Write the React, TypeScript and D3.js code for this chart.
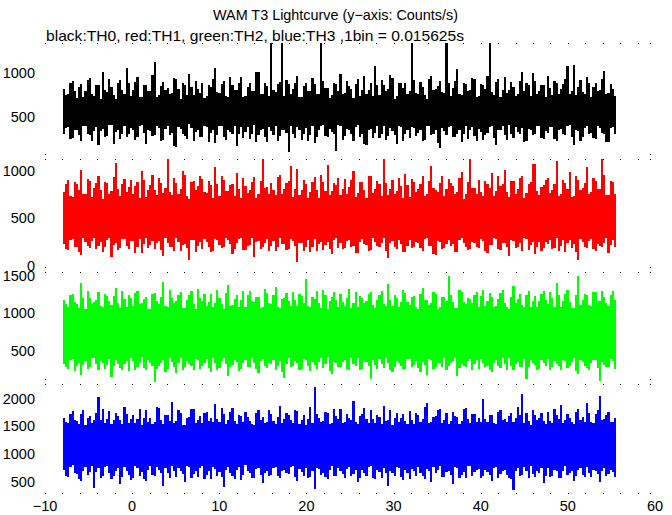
import React from "react";
import * as d3 from "d3";

const W = 672;
const H = 515;

// time of the first envelope sample and sample spacing (s)
const T0 = -7.95;
const STEP = 0.248;

const xTickValues = [-10, 0, 10, 20, 30, 40, 50, 60];
const xTickLabels = ["\u221210", "0", "10", "20", "30", "40", "50", "60"];

const titleText = "WAM T3 Lightcurve (y\u2212axis: Counts/s)";
const subtitleText = "black:TH0, red:TH1, green:TH2, blue:TH3 ,1bin = 0.015625s";

// TH0 (black): upper / lower excursion of the light curve in each sample, counts/s
const blackHigh = [
  820, 745, 760, 880, 905, 790, 712, 835, 870, 720, 790, 915, 940, 765, 735, 860,
  860, 705, 1010, 800, 780, 930, 845, 750, 700, 885, 915, 810, 765, 1050, 880, 740,
  810, 895, 955, 730, 725, 860, 860, 790, 790, 975, 1120, 720, 745, 850, 900, 805,
  830, 760, 770, 940, 935, 815, 705, 880, 865, 745, 985, 835, 750, 905, 820, 770,
  890, 715, 740, 860, 845, 925, 1060, 785, 775, 870, 910, 740, 720, 955, 860, 810,
  800, 880, 950, 725, 735, 845, 880, 790, 790, 1015, 1005, 760, 760, 890, 850, 735,
  1340, 805, 780, 870, 900, 1340, 740, 920, 870, 765, 815, 880, 960, 730, 725, 850,
  885, 795, 795, 940, 870, 760, 760, 1340, 905, 830, 830, 715, 745, 885, 875, 790,
  990, 760, 770, 905, 850, 820, 710, 870, 930, 740, 805, 960, 765, 800, 890, 735,
  1080, 860, 750, 915, 860, 790, 820, 975, 945, 705, 735, 880, 880, 825, 880, 760,
  790, 1340, 915, 770, 760, 895, 845, 745, 700, 930, 960, 810, 815, 855, 905, 785,
  775, 1340, 890, 740, 830, 905, 1040, 765, 750, 880, 870, 795, 805, 940, 925, 720,
  740, 870, 860, 815, 960, 1340, 785, 750, 900, 925, 720, 800, 955, 770, 810, 895,
  845, 735, 765, 910, 1015, 790, 880, 860, 735, 995, 905, 755, 790, 865, 860, 720,
  970, 830, 745, 905, 890, 760, 815, 875, 930, 1080, 760, 790, 1090, 745, 840, 915,
  785, 765, 950, 880, 720, 835, 880, 795, 805, 925, 1020, 760, 770, 870, 815, 740,
];
const blackLow = [
  310, 370, 385, 250, 260, 345, 350, 290, 220, 395, 400, 305, 295, 230, 340, 380,
  180, 335, 365, 270, 280, 410, 410, 195, 325, 355, 245, 300, 390, 265, 300, 375,
  355, 240, 270, 390, 405, 315, 190, 350, 335, 280, 290, 400, 375, 225, 240, 360,
  395, 295, 315, 170, 160, 385, 360, 305, 285, 250, 415, 370, 230, 325, 345, 270,
  275, 400, 380, 215, 320, 345, 205, 290, 400, 390, 265, 235, 350, 330, 300, 395,
  170, 310, 385, 260, 330, 380, 250, 300, 405, 215, 290, 355, 360, 275, 215, 385,
  340, 290, 395, 230, 280, 355, 355, 320, 100, 395, 310, 260, 385, 345, 240, 300,
  370, 225, 295, 390, 200, 265, 345, 395, 410, 285, 265, 360, 325, 300, 110, 410,
  390, 240, 285, 365, 350, 300, 230, 380, 405, 275, 300, 190, 175, 345, 365, 255,
  320, 390, 255, 310, 395, 235, 280, 370, 340, 295, 195, 400, 380, 230, 305, 345,
  260, 380, 370, 285, 315, 355, 225, 240, 400, 390, 290, 300, 355, 205, 150, 370,
  335, 295, 385, 400, 270, 265, 310, 355, 210, 305, 395, 250, 345, 380, 280, 225,
  365, 330, 240, 295, 320, 380, 390, 255, 185, 345, 350, 400, 295, 235, 410, 310,
  260, 380, 330, 300, 375, 215, 220, 365, 345, 290, 300, 395, 395, 260, 250, 340,
  315, 385, 380, 250, 230, 355, 360, 300, 290, 390, 405, 270, 180, 345, 340, 225,
  275, 375, 390, 305, 320, 255, 245, 400, 370, 320, 300, 215, 215, 370, 385, 300,
];

// TH1 (red)
const redHigh = [
  780, 860, 905, 740, 730, 880, 860, 795, 1010, 760, 760, 915, 890, 730, 820, 870,
  945, 800, 705, 885, 870, 755, 790, 940, 1080, 815, 740, 865, 915, 780, 835, 905,
  760, 845, 880, 720, 995, 900, 725, 805, 850, 960, 800, 745, 930, 870, 770, 820,
  1126, 780, 745, 930, 875, 760, 815, 1000, 960, 735, 710, 880, 890, 805, 840, 950,
  920, 775, 765, 890, 850, 720, 1040, 860, 735, 945, 900, 785, 790, 850, 865, 740,
  980, 810, 720, 925, 845, 770, 805, 880, 935, 715, 760, 895, 1126, 820, 830, 760,
  870, 795, 745, 935, 955, 760, 810, 870, 890, 1050, 730, 815, 1020, 745, 800, 900,
  860, 720, 775, 880, 940, 805, 715, 955, 880, 790, 1060, 745, 790, 875, 850, 930,
  745, 810, 920, 760, 835, 905, 1000, 730, 770, 880, 880, 800, 720, 945, 950, 765,
  810, 890, 865, 740, 1126, 870, 750, 815, 900, 760, 785, 925, 840, 720, 970, 850,
  725, 915, 885, 775, 815, 860, 945, 740, 760, 895, 1050, 820, 800, 775, 870, 945,
  735, 810, 920, 870, 845, 755, 780, 930, 990, 710, 755, 880, 1126, 825, 820, 760,
  905, 780, 740, 895, 860, 820, 975, 735, 790, 945, 840, 860, 1015, 780, 725, 890,
  895, 760, 810, 930, 950, 720, 765, 860, 880, 1070, 1070, 790, 745, 835, 855, 905,
  930, 770, 800, 865, 1110, 740, 760, 900, 870, 815, 985, 730, 735, 950, 905, 800,
  820, 875, 1040, 760, 775, 925, 890, 815, 810, 1126, 960, 745, 750, 890, 880, 760,
];
const redLow = [
  230, 180, 165, 270, 280, 205, 200, 150, 120, 290, 255, 215, 185, 265, 295, 175,
  215, 250, 150, 195, 270, 300, 90, 225, 240, 170, 190, 285, 285, 210, 175, 260,
  260, 135, 205, 280, 140, 230, 290, 185, 225, 265, 175, 240, 265, 170, 110, 290,
  245, 200, 195, 155, 300, 255, 160, 225, 235, 185, 60, 270, 275, 145, 210, 250,
  180, 285, 250, 205, 145, 160, 285, 275, 220, 190, 195, 300, 270, 235, 130, 180,
  240, 280, 300, 165, 170, 210, 225, 290, 95, 250, 260, 175, 200, 240, 280, 155,
  215, 260, 155, 195, 290, 230, 235, 170, 180, 285, 265, 210, 40, 245, 245, 155,
  205, 275, 150, 200, 280, 160, 230, 255, 170, 225, 255, 180, 125, 270, 295, 190,
  240, 175, 185, 265, 270, 200, 210, 140, 135, 250, 285, 230, 225, 160, 165, 295,
  250, 215, 195, 240, 300, 160, 80, 245, 260, 195, 180, 275, 230, 150, 145, 210,
  275, 185, 200, 250, 240, 190, 160, 285, 290, 215, 215, 130, 120, 265, 255, 180,
  185, 230, 270, 210, 230, 145, 150, 275, 295, 240, 205, 165, 175, 250, 245, 195,
  190, 280, 265, 155, 140, 220, 225, 290, 280, 175, 170, 245, 245, 205, 105, 270,
  260, 185, 200, 240, 155, 290, 285, 170, 220, 250, 130, 205, 250, 160, 185, 255,
  235, 275, 175, 190, 290, 155, 210, 270, 150, 240, 270, 185, 230, 145, 65, 280,
  255, 200, 190, 265, 280, 175, 160, 230, 215, 195, 245, 290, 140, 225, 270, 205,
];

// TH2 (green)
const greenHigh = [
  1180, 1120, 1090, 1240, 1260, 1150, 1120, 1075, 1400, 1210, 1060, 1295, 1210, 1130, 1150, 1185,
  1280, 1095, 1080, 1265, 1230, 1160, 1110, 1235, 1340, 1140, 1070, 1300, 1190, 1085, 1250, 1200,
  1100, 1275, 1300, 1125, 1140, 1190, 1220, 1060, 1065, 1255, 1270, 1170, 1130, 1215, 1420, 1095,
  1085, 1315, 1200, 1140, 1160, 1245, 1290, 1075, 1075, 1180, 1240, 1305, 1120, 1065, 1330, 1200,
  1170, 1260, 1095, 1150, 1260, 1090, 1140, 1310, 1210, 1125, 1060, 1270, 1380, 1105, 1110, 1195,
  1250, 1080, 1180, 1295, 1080, 1245, 1300, 1160, 1150, 1225, 1225, 1070, 1090, 1330, 1270, 1140,
  1130, 1250, 1350, 1085, 1070, 1190, 1200, 1270, 1160, 1105, 1280, 1180, 1100, 1255, 1235, 1145,
  1460, 1100, 1085, 1215, 1190, 1300, 1145, 1075, 1310, 1240, 1065, 1160, 1220, 1285, 1175, 1090,
  1255, 1150, 1100, 1200, 1320, 1070, 1140, 1290, 1080, 1230, 1210, 1135, 1165, 1255, 1290, 1115,
  1070, 1175, 1240, 1300, 1125, 1095, 1390, 1185, 1095, 1240, 1200, 1080, 1155, 1310, 1275, 1150,
  1110, 1220, 1230, 1085, 1060, 1265, 1340, 1175, 1180, 1115, 1135, 1290, 1260, 1065, 1090, 1225,
  1215, 1160, 1500, 1245, 1150, 1075, 1075, 1310, 1285, 1150, 1120, 1200, 1195, 1135, 1245, 1280,
  1085, 1230, 1310, 1100, 1165, 1270, 1220, 1080, 1100, 1195, 1270, 1310, 1140, 1090, 1060, 1220,
  1360, 1145, 1190, 1255, 1115, 1085, 1250, 1300, 1080, 1160, 1230, 1090, 1170, 1265, 1295, 1185,
  1125, 1280, 1205, 1090, 1410, 1245, 1090, 1170, 1260, 1310, 1150, 1075, 1070, 1240, 1500, 1115,
  1185, 1255, 1240, 1110, 1105, 1285, 1280, 1165, 1160, 1300, 1215, 1135, 1095, 1250, 1300, 1175,
];
const greenLow = [
  330, 280, 260, 375, 395, 235, 300, 345, 180, 310, 360, 265, 280, 400, 410, 320,
  240, 370, 345, 255, 310, 390, 150, 295, 385, 330, 270, 245, 325, 360, 230, 410,
  370, 250, 290, 345, 415, 275, 250, 380, 340, 300, 90, 265, 305, 345, 380, 225,
  265, 410, 350, 290, 200, 335, 400, 245, 285, 370, 320, 305, 245, 395, 375, 260,
  300, 345, 390, 270, 220, 405, 335, 250, 270, 360, 410, 325, 160, 290, 315, 385,
  355, 230, 255, 340, 380, 285, 290, 410, 340, 260, 210, 370, 395, 305, 275, 335,
  320, 385, 250, 300, 365, 215, 140, 330, 400, 280, 295, 370, 335, 250, 260, 395,
  385, 300, 230, 350, 310, 265, 350, 410, 270, 330, 415, 235, 195, 350, 340, 280,
  285, 350, 375, 260, 245, 400, 330, 295, 405, 250, 265, 350, 355, 300, 120, 385,
  310, 265, 390, 320, 275, 410, 345, 240, 225, 290, 370, 335, 300, 255, 255, 395,
  395, 285, 315, 365, 270, 215, 350, 310, 185, 390, 380, 255, 290, 335, 335, 280,
  405, 250, 305, 345, 360, 400, 170, 275, 325, 300, 280, 360, 390, 245, 325, 380,
  260, 395, 345, 280, 300, 250, 215, 335, 385, 300, 270, 405, 330, 250, 410, 300,
  240, 330, 355, 290, 290, 390, 130, 285, 375, 345, 310, 245, 265, 380, 340, 300,
  395, 250, 280, 370, 320, 300, 245, 385, 365, 270, 300, 350, 410, 235, 190, 380,
  350, 305, 275, 245, 335, 380, 385, 270, 100, 350, 315, 290, 290, 390, 360, 255,
];

// TH3 (blue)
const blueHigh = [
  1650, 1590, 1560, 1720, 1780, 1610, 1600, 1540, 1720, 1800, 1520, 1650, 1690, 1570, 1610, 1750,
  2040, 1620, 1810, 1560, 1640, 1780, 1540, 1610, 1750, 1690, 1610, 1550, 1860, 1730, 1570, 1640,
  1700, 1560, 1630, 1820, 1520, 1660, 1790, 1580, 1660, 1540, 1590, 1860, 1830, 1620, 1550, 1700,
  1710, 1600, 1950, 1570, 1600, 1790, 1740, 1530, 1530, 1650, 1680, 1810, 1820, 1560, 1620, 1690,
  1560, 1750, 1770, 1600, 1650, 1580, 1900, 1640, 1580, 1830, 1720, 1550, 1610, 1770, 1840, 1600,
  1540, 1710, 1690, 1580, 1760, 1680, 1600, 1540, 1530, 1750, 1800, 1610, 1670, 1570, 1590, 1790,
  1730, 1600, 1550, 1680, 1880, 1560, 1640, 1740, 1710, 1620, 1570, 1800, 1780, 1550, 1620, 1700,
  1520, 1640, 1850, 1570, 2210, 1720, 1660, 1590, 1600, 1760, 1740, 1550, 1560, 1820, 1690, 1630,
  1810, 1570, 1590, 1730, 1650, 1610, 1960, 1580, 1540, 1690, 1720, 1830, 1630, 1560, 1790, 1640,
  1570, 1700, 1680, 1550, 1870, 1600, 1610, 1790, 1530, 1650, 1750, 1580, 1660, 1720, 1600, 1550,
  1780, 1620, 1550, 1740, 1710, 1580, 1640, 1860, 1920, 1570, 1580, 1670, 1690, 1800, 1820, 1560,
  1620, 1740, 1540, 1600, 1760, 1690, 1670, 1550, 1600, 1810, 1830, 1640, 1560, 1720, 1730, 1580,
  1650, 1590, 1990, 1630, 1590, 1700, 1710, 1560, 1540, 1760, 1800, 1620, 1630, 1580, 1690, 1740,
  1580, 1650, 1850, 1700, 2080, 1560, 1740, 1600, 1530, 1790, 1700, 1610, 1660, 1750, 1600, 1550,
  1770, 1600, 1570, 1810, 1700, 1640, 1890, 1560, 1610, 1720, 1650, 1580, 1540, 1770, 1820, 1620,
  1680, 1590, 1930, 1740, 1590, 1560, 1720, 1800, 2060, 1610, 1630, 1700, 1760, 1580, 1580, 1650,
];
const blueLow = [
  720, 610, 590, 760, 800, 650, 640, 540, 510, 700, 760, 620, 670, 790, 380, 680,
  740, 560, 610, 770, 790, 650, 550, 600, 700, 740, 460, 590, 770, 690, 630, 530,
  560, 780, 750, 600, 680, 540, 520, 720, 790, 620, 610, 760, 720, 660, 430, 740,
  660, 570, 780, 700, 590, 740, 700, 640, 500, 780, 760, 560, 640, 690, 580, 750,
  780, 550, 620, 700, 540, 760, 730, 610, 670, 580, 400, 720, 760, 650, 600, 540,
  710, 770, 530, 620, 800, 690, 650, 570, 570, 730, 740, 630, 480, 660, 690, 600,
  620, 740, 770, 600, 560, 690, 710, 650, 640, 760, 790, 580, 510, 730, 680, 610,
  750, 560, 590, 700, 360, 740, 730, 620, 660, 580, 540, 720, 780, 600, 610, 750,
  700, 640, 570, 730, 760, 600, 640, 710, 490, 560, 720, 660, 600, 770, 790, 560,
  550, 720, 680, 570, 740, 650, 420, 700, 650, 610, 770, 740, 590, 530, 710, 650,
  540, 730, 690, 600, 760, 660, 610, 550, 730, 690, 500, 760, 650, 710, 780, 590,
  580, 680, 700, 620, 450, 760, 740, 570, 620, 680, 560, 790, 790, 600, 670, 720,
  730, 570, 600, 710, 680, 620, 520, 750, 770, 560, 640, 690, 710, 620, 560, 540,
  350, 690, 750, 600, 620, 770, 690, 560, 790, 640, 580, 700, 660, 740, 470, 600,
  740, 580, 610, 720, 700, 560, 560, 690, 780, 620, 650, 700, 520, 600, 720, 750,
  630, 580, 760, 660, 580, 720, 700, 640, 490, 690, 750, 610, 640, 720, 680, 580,
];

const blackTicks = [500, 1000];
const redTicks = [0, 500, 1000];
const greenTicks = [500, 1000, 1500];
const blueTicks = [500, 1000, 1500, 2000];

const panels = [
  { key: "TH0", color: "#000000", hi: blackHigh, lo: blackLow, domain: [20, 1340], top: 43, bottom: 159, ticks: blackTicks },
  { key: "TH1", color: "#ff0000", hi: redHigh, lo: redLow, domain: [-63, 1126], top: 159, bottom: 272, ticks: redTicks },
  { key: "TH2", color: "#00ff00", hi: greenHigh, lo: greenLow, domain: [60, 1553], top: 272, bottom: 384, ticks: greenTicks },
  { key: "TH3", color: "#0000ff", hi: blueHigh, lo: blueLow, domain: [295, 2270], top: 384, bottom: 493, ticks: blueTicks },
];

const FONT = "'Liberation Sans', Arial, Helvetica, sans-serif";

type Sample = { t: number; hi: number; lo: number };

export default function App() {
  const x = d3.scaleLinear().domain([-10, 60]).range([45, 655]);
  const minorTicks = d3.range(-10, 59, 2);
  const rows = [43, 159, 272, 384, 493];

  return (
    <svg
      width={W}
      height={H}
      viewBox={`0 0 ${W} ${H}`}
      style={{ position: "absolute", left: 0, top: 0, background: "#fff" }}
      fontFamily={FONT}
    >
      <rect x={0} y={0} width={W} height={H} fill="#fff" />
      <defs>
        {panels.map((p) => (
          <clipPath id={`clip-${p.key}`} key={p.key}>
            <rect x={45} y={p.top} width={610} height={p.bottom - p.top} />
          </clipPath>
        ))}
      </defs>

      <text x={335.5} y={20} textAnchor="middle" fontSize={14.5} textLength={245} lengthAdjust="spacingAndGlyphs">
        {titleText}
      </text>
      <text x={46} y={41} fontSize={14.5} textLength={418} lengthAdjust="spacingAndGlyphs">
        {subtitleText}
      </text>

      {rows.map((ry) => (
        <g key={ry} fill="#000">
          {minorTicks.map((t) => (
            <rect key={t} x={Math.round(x(t))} y={ry} width={1} height={1} />
          ))}
          <rect x={650} y={ry} width={1} height={1} />
          {ry !== 43 && ry !== 493 && (
            <>
              <rect x={45} y={ry - 5} width={1} height={1} />
              <rect x={650} y={ry - 5} width={1} height={1} />
            </>
          )}
        </g>
      ))}

      {panels.map((p) => {
        const y = d3.scaleLinear().domain(p.domain).range([p.bottom, p.top]);
        const samples: Sample[] = p.hi.map((h, i) => ({ t: T0 + i * STEP, hi: h, lo: p.lo[i] }));
        const last = samples[samples.length - 1];
        samples.push({ t: last.t + STEP, hi: last.hi, lo: last.lo });
        const area = d3
          .area<Sample>()
          .curve(d3.curveStepAfter)
          .x((d) => x(d.t))
          .y0((d) => y(d.lo))
          .y1((d) => y(d.hi));
        return (
          <g key={p.key}>
            <path
              d={area(samples) || ""}
              fill={p.color}
              stroke="none"
              shapeRendering="crispEdges"
              clipPath={`url(#clip-${p.key})`}
            />
            {p.ticks.map((v) => (
              <text key={v} x={35} y={y(v) + 5} textAnchor="end" fontSize={14.5}>
                {v}
              </text>
            ))}
          </g>
        );
      })}

      {xTickValues.map((v, i) => (
        <text key={v} x={x(v)} y={511} textAnchor="middle" fontSize={14.5}>
          {xTickLabels[i]}
        </text>
      ))}
    </svg>
  );
}
